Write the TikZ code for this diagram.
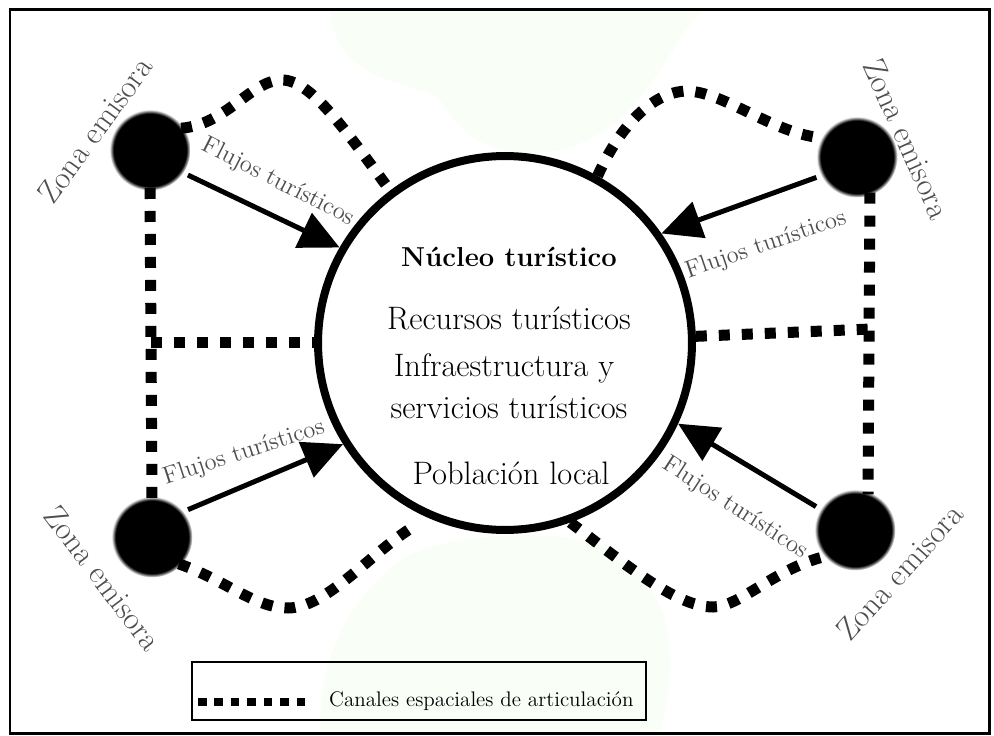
\documentclass[tikz,border=0pt]{standalone}
\usepackage{fontspec}
\usetikzlibrary{arrows.meta}

\definecolor{tinte}{RGB}{249,254,247}
\definecolor{gristexto}{RGB}{78,78,78}
\pgfdeclareradialshading{zonadifusa}{\pgfpoint{0bp}{0bp}}{color(0bp)=(black); color(22.5bp)=(black); color(25bp)=(white); color(50bp)=(white)}

\begin{document}
\begin{tikzpicture}[x=0.02cm, y=-0.02cm,
    zona/.style={circle, shade, shading=zonadifusa, minimum size=1.62cm, inner sep=0pt, outer sep=-0.05cm},
    canal/.style={line width=0.22cm, dash pattern=on 0.22cm off 0.24cm},
    flujo/.style={line width=0.1cm, -{Triangle[length=0.8cm, width=0.75cm]}, shorten <=0.15cm},
    rotulo/.style={text=gristexto, font=\fontsize{13.9}{16}\selectfont},
    emisora/.style={text=gristexto, font=\fontsize{18.2}{21}\selectfont},
    dentro/.style={font=\fontsize{18.5}{22}\selectfont}]
                \useasboundingbox (0,0) rectangle (994,736);

                % 背景色块
                \fill[tinte] (330,12) -- (700,12) .. controls (660,60) and (640,130) .. (560,150)
                    .. controls (510,160) and (470,150) .. (440,100) .. controls (420,80) and (340,90) .. cycle;
                \fill[tinte] (320,732) .. controls (320,650) and (350,600) .. (400,560)
                    .. controls (450,530) and (560,530) .. (600,545) .. controls (650,570) and (690,620) .. (660,732) -- cycle;

                % 外框
                \draw[line width=0.06cm] (10,10) rectangle (989,733);

                % 核心与发送区
                \node[circle, draw, line width=0.16cm, minimum size=7.48cm, inner sep=0pt] (nucleo) at (505,343) {};
                \node[zona] (zonaTL) at (150,150) {};
                \node[zona] (zonaTR) at (857,157) {};
                \node[zona] (zonaBL) at (152,537) {};
                \node[zona] (zonaBR) at (855,530) {};

                % 核心文字
                \node[dentro, font=\fontsize{15.6}{18}\selectfont\bfseries] (titulo) at (509,257) {Núcleo turístico};
                \node[dentro] (recursos) at (509,318) {Recursos turísticos};
                \node[dentro] (infra) at (504,368) {Infraestructura y};
                \node[dentro] (servicios) at (509,407) {servicios turísticos};
                \node[dentro] (poblacion) at (511,473) {Población local};

                % 空间连接通道
                \draw[canal] (zonaTL.35) .. controls (225,125) and (250,82) .. (280,80)
                    .. controls (310,78) and (345,130) .. (nucleo.127);
                \draw[canal] (nucleo.61) .. controls (618,130) and (650,92) .. (687,91)
                    .. controls (725,92) and (775,135) .. (zonaTR.150);
                \draw[canal, shorten >=0.42cm] (zonaBL.-45) .. controls (225,580) and (255,608) .. (288,608)
                    .. controls (325,608) and (367,557) .. (nucleo.246);
                \draw[canal] (nucleo.290) .. controls (620,560) and (675,607) .. (713,607)
                    .. controls (740,607) and (775,568) .. (zonaBR.223);
                \draw[canal] (zonaTL.south) -- (zonaBL.north);
                \draw[canal] (zonaTR.-70) -- (zonaBR.70);
                \coordinate (cruceL) at (151,343);
                \coordinate (cruceR) at (871,329);
                \draw[canal] (cruceL) -- (nucleo.west);
                \draw[canal] (nucleo.2) -- (cruceR);

                % 旅游流
                \draw[flujo] (zonaTL.-35) -- (nucleo.150);
                \draw[flujo] (zonaTR.208) -- (nucleo.35);
                \draw[flujo] (zonaBL.40) -- (nucleo.212);
                \draw[flujo] (zonaBR.149) -- (nucleo.335);

                \node[rotulo, rotate=-27] (flujoTL) at (278,182) {Flujos turísticos};
                \node[rotulo, rotate=19] (flujoTR) at (766,245) {Flujos turísticos};
                \node[rotulo, rotate=18] (flujoBL) at (244,453) {Flujos turísticos};
                \node[rotulo, rotate=-33] (flujoBR) at (735,508) {Flujos turísticos};

                % 标记发送区
                \node[emisora, rotate=54] (textoTL) at (95,130) {Zona emisora};
                \node[emisora, rotate=-66] (textoTR) at (907,139) {Zona emisora};
                \node[emisora, rotate=-53] (textoBL) at (103,578) {Zona emisora};
                \node[emisora, rotate=48] (textoBR) at (900,572) {Zona emisora};

                % 图例
                \node[draw, line width=0.04cm, minimum width=9.08cm, minimum height=1.16cm, inner sep=0pt] (leyenda) at (419,691) {};
                \draw[line width=0.17cm, dash pattern=on 0.17cm off 0.16cm] (198,702) -- (308,702);
                \node[anchor=west, font=\fontsize{12}{14}\selectfont] (textoLeyenda) at (323,701) {Canales espaciales de articulación};
            \end{tikzpicture}
\end{document}
